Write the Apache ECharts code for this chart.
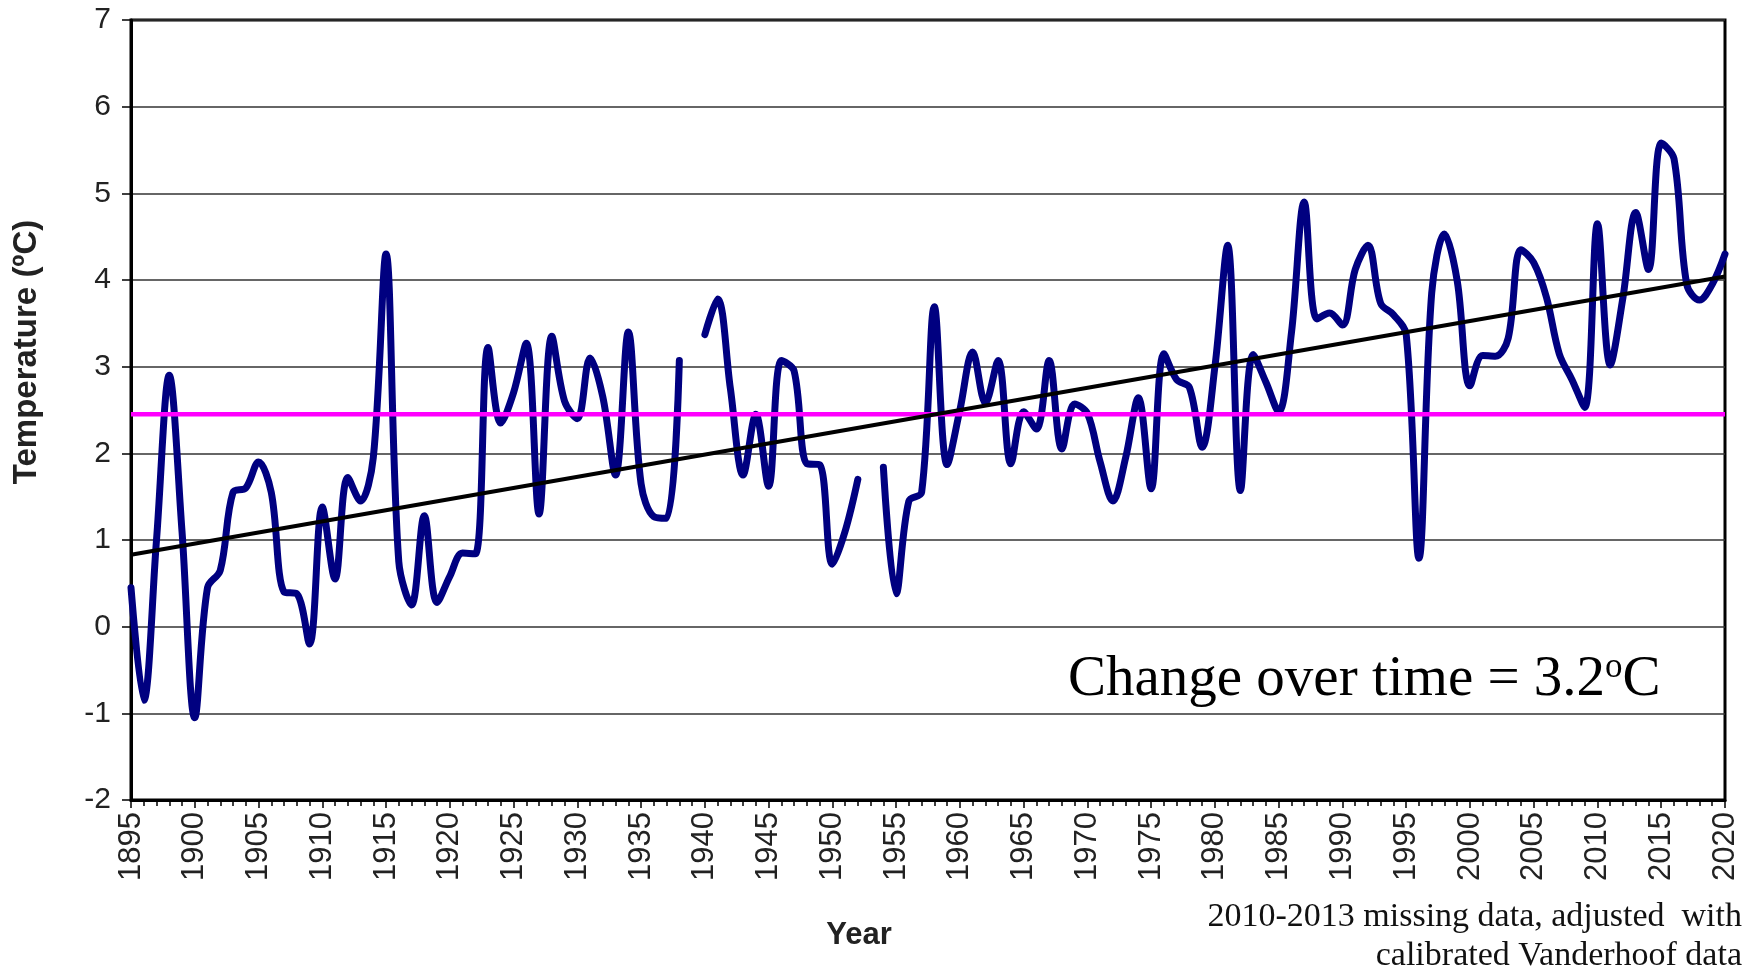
<!DOCTYPE html>
<html>
<head>
<meta charset="utf-8">
<script src="https://cdn.jsdelivr.net/npm/echarts@6/dist/echarts.min.js"></script>
<style>
  html, body { margin: 0; padding: 0; background: #fff; }
  #chart { width: 1753px; height: 973px; }
</style>
</head>
<body>
<div id="chart"></div>
<script>
// annual temperature, 1895..2020 (null = missing year)
const startYear = 1895;
const temps = [
  0.45, -0.85, 1.0, 2.9, 1.1,                                  // 1895-1899
  -1.05, 0.45, 0.65, 1.55, 1.6, 1.9, 1.55, 0.4, 0.38, -0.2,    // 1900s
  1.38, 0.55, 1.72, 1.45, 1.95, 4.3, 0.75, 0.25, 1.28, 0.28,   // 1910s
  0.58, 0.85, 0.84, 3.22, 2.35, 2.7, 3.27, 1.3, 3.35, 2.6,     // 1920s
  2.4, 3.1, 2.65, 1.75, 3.4, 1.65, 1.27, 1.25, 3.07, null,     // 1930s
  3.37, 3.78, 2.75, 1.75, 2.45, 1.62, 3.07, 2.95, 1.88, 1.87,  // 1940s
  0.72, 1.1, 1.7, null, 1.84, 0.38, 1.45, 1.55, 3.69, 1.87,    // 1950s
  2.5, 3.17, 2.58, 3.07, 1.88, 2.48, 2.28, 3.07, 2.05, 2.57,   // 1960s
  2.46, 1.9, 1.45, 1.95, 2.64, 1.59, 3.15, 2.85, 2.76, 2.07,   // 1970s
  3.0, 4.4, 1.57, 3.14, 2.82, 2.48, 3.39, 4.9, 3.55, 3.62,     // 1980s
  3.48, 4.12, 4.4, 3.73, 3.6, 3.37, 0.79, 3.85, 4.53, 3.99,    // 1990s
  2.78, 3.13, 3.12, 3.33, 4.35, 4.2, 3.8, 3.15, 2.85, 2.53,    // 2000s
  4.65, 3.02, 3.8, 4.78, 4.12, 5.58, 5.4, 3.95, 3.77, 3.95,    // 2010s
  4.3                                                          // 2020
];
const years = temps.map((_, i) => startYear + i);

// long-term mean (magenta) and linear trend ends (black)
const meanTemp = 2.45;
const trendYears = [1895, 2020];
const trendTemps = [0.83, 4.04];

const chart = echarts.init(document.getElementById('chart'));

const sans = 'Liberation Sans, Arial, sans-serif';
const serif = 'Liberation Serif, Times New Roman, serif';

const option = {
  backgroundColor: '#fff',
  animation: false,
  grid: {
    left: 131, right: 28, top: 20, bottom: 173,
    show: true,
    borderColor: '#000',
    borderWidth: 3
  },
  xAxis: {
    type: 'value',
    min: 1895,
    max: 2020,
    interval: 5,
    axisLine: { show: true, onZero: false, lineStyle: { color: '#000', width: 3 } },
    axisTick: { show: true, length: 8, lineStyle: { color: '#000', width: 1.5 } },
    minorTick: { show: true, splitNumber: 5, length: 6, lineStyle: { color: '#000', width: 1.5 } },
    splitLine: { show: false },
    axisLabel: {
      rotate: 90,
      margin: 12,
      color: '#222',
      fontSize: 31,
      fontFamily: sans,
      formatter: v => String(v)
    }
  },
  yAxis: {
    type: 'value',
    min: -2,
    max: 7,
    interval: 1,
    axisLine: { show: true, lineStyle: { color: '#000', width: 3 } },
    axisTick: { show: true, length: 9, lineStyle: { color: '#000', width: 1.5 } },
    splitLine: { show: true, lineStyle: { color: '#333', width: 1.5 } },
    axisLabel: {
      margin: 20,
      color: '#222',
      fontSize: 30,
      fontFamily: sans
    }
  },
  graphic: [
    {
      type: 'text',
      x: 27, y: 352,
      rotation: Math.PI / 2,
      style: {
        text: 'Temperature (ºC)',
        font: 'bold 33px ' + sans,
        fill: '#222',
        align: 'center',
        verticalAlign: 'middle'
      }
    },
    {
      type: 'text',
      x: 859, y: 935,
      style: {
        text: 'Year',
        font: 'bold 31px ' + sans,
        fill: '#222',
        align: 'center',
        verticalAlign: 'middle'
      }
    },
    {
      type: 'text',
      x: 1068, y: 680,
      z: 100,
      style: {
        text: '{a|Change over time = 3.2}{s|o}{a|C}',
        verticalAlign: 'middle',
        rich: {
          a: { fontFamily: serif, fontSize: 57, fill: '#000' },
          s: { fontFamily: serif, fontSize: 35, fill: '#000', padding: [0, 0, 24, 0] }
        }
      }
    },
    {
      type: 'text',
      x: 1742, y: 917,
      style: {
        text: '2010-2013 missing data, adjusted  with',
        font: '34px ' + serif,
        fill: '#111',
        align: 'right',
        verticalAlign: 'middle'
      }
    },
    {
      type: 'text',
      x: 1742, y: 956,
      style: {
        text: 'calibrated Vanderhoof data',
        font: '34px ' + serif,
        fill: '#111',
        align: 'right',
        verticalAlign: 'middle'
      }
    }
  ],
  series: [
    {
      name: 'Temperature',
      type: 'line',
      data: years.map((y, i) => [y, temps[i] === null ? '-' : temps[i]]),
      smooth: 0.35,
      connectNulls: false,
      showSymbol: false,
      z: 2,
      lineStyle: { color: '#000080', width: 7, cap: 'round', join: 'round' }
    },
    {
      name: 'Mean',
      type: 'line',
      data: trendYears.map(y => [y, meanTemp]),
      showSymbol: false,
      z: 3,
      lineStyle: { color: '#FF00FF', width: 4.5 }
    },
    {
      name: 'Trend',
      type: 'line',
      data: trendYears.map((y, i) => [y, trendTemps[i]]),
      showSymbol: false,
      z: 4,
      lineStyle: { color: '#000', width: 4 }
    }
  ]
};

chart.setOption(option);
</script>
</body>
</html>
